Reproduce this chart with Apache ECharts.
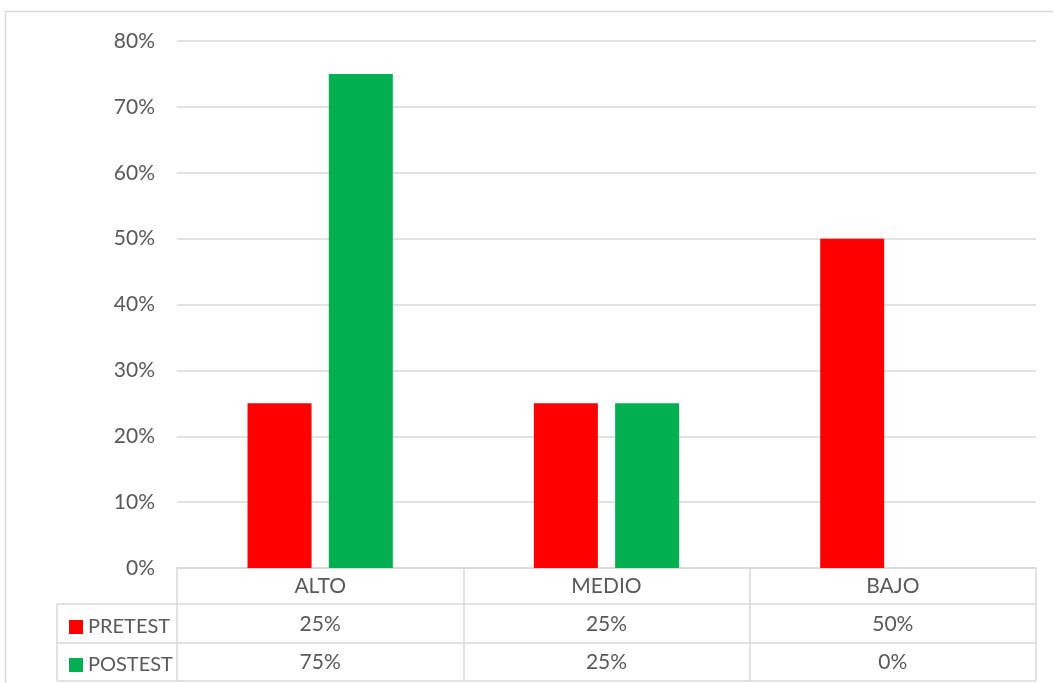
<!DOCTYPE html>
<html><head><meta charset="utf-8">
<script src="https://cdn.jsdelivr.net/npm/echarts@6/dist/echarts.min.js"></script>
<style>html,body{margin:0;padding:0;background:#fff}#c{width:1053px;height:683px}</style>
</head><body><div id="c"></div>
<script>
const categories = ['ALTO', 'MEDIO', 'BAJO'];
const seriesNames = ['PRETEST', 'POSTEST'];
const pretest = [0.25, 0.25, 0.50];
const postest = [0.75, 0.25, 0.00];
const yTicks = [0, 0.1, 0.2, 0.3, 0.4, 0.5, 0.6, 0.7, 0.8];

const pct = v => Math.round(v * 100) + '%';
const FONT = 'Lato';
const FS = 21;
const TXT = '#595959';
const LINE = '#d9d9d9';

// layout
const GL = 177, GR = 1036, GT = 41, GB = 568;
const rowY = [568, 604, 643, 681];
const tableLeft = 57;

const chart = echarts.init(document.getElementById('c'));

function textAxis(data, offset) {
  return {
    type: 'category', gridIndex: 0, position: 'bottom', offset: offset, data: data,
    axisLine: {show: false}, axisTick: {show: false}, splitLine: {show: false},
    axisLabel: {color: TXT, fontFamily: FONT, fontSize: FS, lineHeight: 20, margin: 8.5, interval: 0}
  };
}

const gfx = [];
gfx.push({type: 'rect', shape: {x: 5.5, y: 11.5, width: 1100, height: 700}, style: {fill: null, stroke: LINE, lineWidth: 1.5}, silent: true});
[rowY[1], rowY[2], rowY[3]].forEach(y => gfx.push({type: 'line', shape: {x1: tableLeft, y1: y, x2: GR, y2: y}, style: {stroke: LINE, lineWidth: 1.5}, silent: true}));
gfx.push({type: 'line', shape: {x1: tableLeft, y1: rowY[1], x2: tableLeft, y2: rowY[3]}, style: {stroke: LINE, lineWidth: 1.5}, silent: true});

chart.setOption({
  animation: false,
  textStyle: {fontFamily: FONT},
  grid: {left: GL, right: 1053 - GR, top: GT, bottom: 683 - GB, containLabel: false},
  legend: {
    orient: 'vertical', left: 64, top: 612, itemGap: 18, itemWidth: 14, itemHeight: 14,
    icon: 'rect', data: seriesNames,
    textStyle: {color: TXT, fontFamily: FONT, fontSize: 20, lineHeight: 20}
  },
  xAxis: [
    {
      type: 'category', data: categories, position: 'bottom',
      axisLine: {show: true, lineStyle: {color: LINE, width: 1.5}},
      axisTick: {show: true, alignWithLabel: false, length: rowY[3] - GB, lineStyle: {color: LINE, width: 1.5}},
      axisLabel: {color: TXT, fontFamily: FONT, fontSize: FS, lineHeight: 20, margin: 8.5, interval: 0}
    },
    textAxis(pretest.map(pct), 37.5),
    textAxis(postest.map(pct), 75.5)
  ],
  yAxis: {
    type: 'value', min: yTicks[0], max: yTicks[yTicks.length - 1], interval: 0.1,
    axisLine: {show: false}, axisTick: {show: false},
    splitLine: {lineStyle: {color: LINE, width: 1.5}},
    axisLabel: {color: TXT, fontFamily: FONT, fontSize: FS, margin: 22, formatter: v => pct(v)}
  },
  series: [
    {name: seriesNames[0], type: 'bar', xAxisIndex: 0, data: pretest, barWidth: 64, barGap: '27%', itemStyle: {color: '#FF0000'}},
    {name: seriesNames[1], type: 'bar', xAxisIndex: 0, data: postest, barWidth: 64, barGap: '27%', itemStyle: {color: '#00B050'}}
  ],
  graphic: gfx
});
</script></body></html>
